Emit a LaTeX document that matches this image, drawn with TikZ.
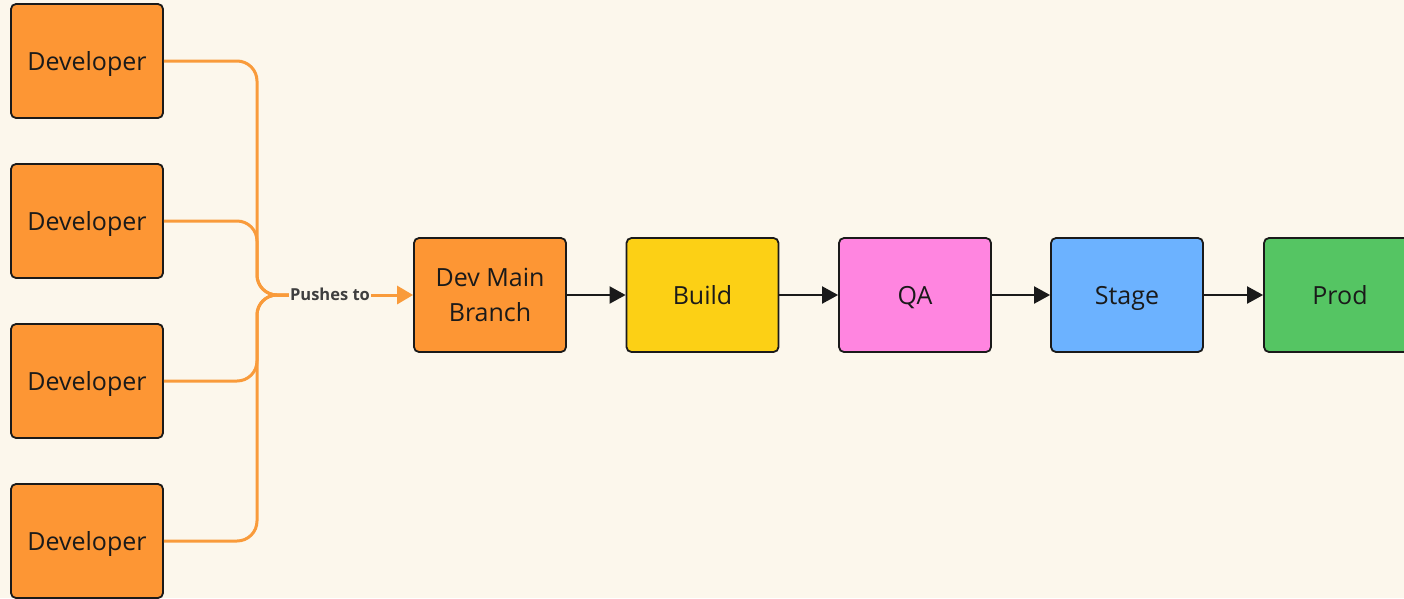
\documentclass[tikz,border=0pt]{standalone}
\usepackage{fontspec}
\setmainfont{Open Sans}
\usetikzlibrary{arrows.meta}
\definecolor{bg}{HTML}{FCF7EC}
\definecolor{devorange}{HTML}{FD9634}
\definecolor{lineorange}{HTML}{F99B3B}
\definecolor{buildyellow}{HTML}{FCD015}
\definecolor{qapink}{HTML}{FF85E0}
\definecolor{stageblue}{HTML}{6CB2FF}
\definecolor{prodgreen}{HTML}{55C563}
\definecolor{ink}{HTML}{1A1A1A}
\definecolor{labelgray}{HTML}{3F3F3F}
\tikzset{
  card/.style={draw=ink, line width=1.8pt, rounded corners=5pt,
    minimum width=152pt, minimum height=114pt, inner sep=0pt,
    font=\fontsize{25}{35}\selectfont, text=ink, align=center},
  oneline/.style={card, text height=20pt, text depth=2pt},
  feed/.style={draw=lineorange, line width=3pt, rounded corners=20pt},
  flow/.style={draw=ink, line width=2pt, -{Triangle[length=16pt, width=17pt]}},
}
\begin{document}
\begin{tikzpicture}[x=1pt, y=-1pt]
  \fill[bg] (0,0) rectangle (1404,598);
  \useasboundingbox (0,0) rectangle (1404,598);

  % developer boxes
  \node[oneline, fill=devorange] (d1) at (87,61) {Developer};
  \node[oneline, fill=devorange] (d2) at (87,221) {Developer};
  \node[oneline, fill=devorange] (d3) at (87,381) {Developer};
  \node[oneline, fill=devorange] (d4) at (87,541) {Developer};

  % pipeline stages
  \node[card, fill=devorange] (main) at (490,295) {Dev Main\\Branch};
  \node[oneline, fill=buildyellow] (build) at (702.5,295) {Build};
  \node[oneline, fill=qapink] (qa) at (915,295) {QA};
  \node[oneline, fill=stageblue] (stage) at (1127,295) {Stage};
  \node[oneline, fill=prodgreen] (prod) at (1340,295) {Prod};

  % merge point and label
  \coordinate (hub) at (257,295);
  \node[font=\bfseries\fontsize{16.5}{18}\selectfont, text=labelgray,
        fill=bg, inner sep=1pt, text height=12pt, text depth=1pt] (push) at (330,295) {Pushes to};

  \foreach \d in {d1,d2,d3,d4}
    \draw[feed] (\d.east) -| (hub) -- (push.west);
  \draw[draw=lineorange, line width=3pt,
        -{Triangle[length=16pt, width=18pt]}] (push.east) -- (main.west);

  \draw[flow] (main) -- (build);
  \draw[flow] (build) -- (qa);
  \draw[flow] (qa) -- (stage);
  \draw[flow] (stage) -- (prod);
\end{tikzpicture}
\end{document}
